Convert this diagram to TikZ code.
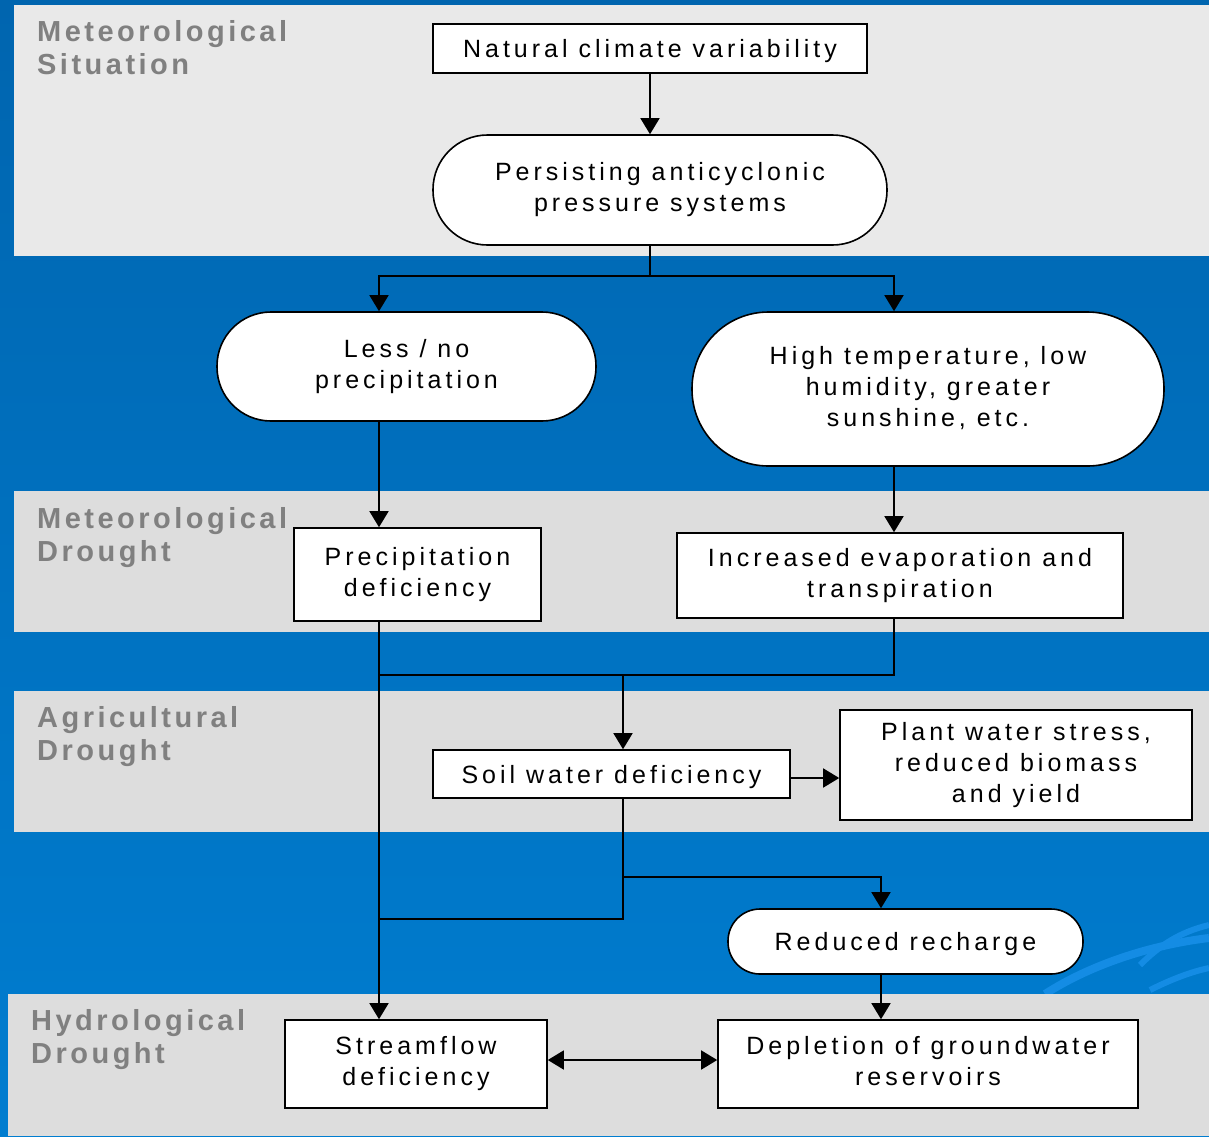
\documentclass[tikz,border=0pt]{standalone}
\usepackage{fontspec}
\setmainfont{Liberation Sans}
\newfontfamily\boxfont{Liberation Sans}[LetterSpace=16]
\newfontfamily\bandfont{Liberation Sans}[LetterSpace=12]
\usetikzlibrary{arrows.meta}
\definecolor{bgtop}{RGB}{0,101,175}
\definecolor{bgbot}{RGB}{0,125,208}
\definecolor{bandlight}{RGB}{233,233,233}
\definecolor{bandgrey}{RGB}{221,221,221}
\definecolor{labelgrey}{RGB}{128,128,128}
\definecolor{swoosh}{RGB}{20,140,228}
\begin{document}
\begin{tikzpicture}[x=1pt,y=-1pt,
    every node/.style={inner sep=0pt, align=center, font=\boxfont\fontsize{25}{31}\selectfont},
    box/.style={draw, fill=white, line width=1.6pt,
      execute at begin node={\rule{0pt}{23.5pt}}, execute at end node={\rule[-5.5pt]{0pt}{5.5pt}}},
    pill/.style={box, rounded corners=#1},
    band/.style={anchor=north west, align=left, text=labelgrey, font=\bandfont\bfseries\fontsize{29}{33.5}\selectfont},
    arr/.style={-{Triangle[length=16pt,width=19pt]}, line width=1.6pt},
    arrs/.style={{Triangle[length=16pt,width=19pt]}-{Triangle[length=16pt,width=19pt]}, line width=1.6pt}]
    \useasboundingbox (0,0) rectangle (1209,1136);
    % background and bands
    \shade [top color=bgtop, bottom color=bgbot] (0,0) rectangle (1209,1136);
    \draw [swoosh, line width=8pt] (1045,994) .. controls (1090,965) and (1150,945) .. (1209,938);
    \draw [swoosh, line width=6pt] (1140,965) .. controls (1160,945) and (1180,932) .. (1209,925);
    \draw [swoosh, line width=6pt] (1150,990) .. controls (1170,980) and (1190,972) .. (1209,968);
    \fill [bandlight] (14,5) rectangle (1209,256);
    \fill [bandgrey] (14,491) rectangle (1209,632);
    \fill [bandgrey] (14,691) rectangle (1209,832);
    \fill [bandgrey] (8,994) rectangle (1209,1136);
    \node [band] (lab1) at (37,20) {Meteorological\\Situation};
    \node [band] (lab2) at (37,507) {Meteorological\\Drought};
    \node [band] (lab3) at (37,706) {Agricultural\\Drought};
    \node [band] (lab4) at (31,1009) {Hydrological\\Drought};
    % nodes
    \node [box, minimum width=434, minimum height=49] (nat) at (650,48.5) {Natural climate variability};
    \node [pill=54.5, minimum width=454, minimum height=110] (pers) at (660,190) {Persisting anticyclonic\\pressure systems};
    \node [pill=54, minimum width=379, minimum height=109] (less) at (406.5,366.5) {Less / no\\precipitation};
    \node [pill=76.5, minimum width=472, minimum height=154] (high) at (928,389) {High temperature, low\\humidity, greater\\sunshine, etc.};
    \node [box, minimum width=247, minimum height=93] (pdef) at (417.5,574.5) {Precipitation\\deficiency};
    \node [box, minimum width=446, minimum height=85] (evap) at (900,575.5) {Increased evaporation and\\transpiration};
    \node [box, minimum width=357, minimum height=48] (soil) at (611.5,774) {Soil water deficiency};
    \node [box, minimum width=352, minimum height=110] (plant) at (1016,765) {Plant water stress,\\reduced biomass\\and yield};
    \node [pill=32, minimum width=355, minimum height=65] (rech) at (905.5,941.5) {Reduced recharge};
    \node [box, minimum width=262, minimum height=88] (stream) at (416,1064) {Streamflow\\deficiency};
    \node [box, minimum width=420, minimum height=88] (depl) at (928,1064) {Depletion of groundwater\\reservoirs};
    % columns and junctions
    \coordinate (cL) at (379,0);
    \coordinate (cM) at (623,0);
    \coordinate (cR) at (894,0);
    \coordinate (cG) at (881,0);
    \coordinate (j1) at (650,276);
    \coordinate (j2) at (623,675);
    \coordinate (j3) at (623,877);
    \coordinate (j4) at (623,919);
    % connectors
    \draw [arr] (nat.south) -- (nat.south |- pers.north);
    \draw [line width=1.6pt] (pers.south -| j1) -- (j1);
    \draw [arr] (j1) -| (cL |- less.north);
    \draw [arr] (j1) -| (cR |- high.north);
    \draw [arr] (cL |- less.south) -- (cL |- pdef.north);
    \draw [arr] (cR |- high.south) -- (cR |- evap.north);
    \draw [arr] (cL |- pdef.south) -- (cL |- stream.north);
    \draw [line width=1.6pt] (cR |- evap.south) |- (cL |- j2);
    \draw [arr] (j2) -- (cM |- soil.north);
    \draw [arr] ([yshift=-4pt]soil.east) -- ([yshift=-4pt]plant.west |- soil.east);
    \draw [line width=1.6pt] (cM |- soil.south) -- (j4) -- (cL |- j4);
    \draw [arr] (j3) -| (cG |- rech.north);
    \draw [arr] (cG |- rech.south) -- (cG |- depl.north);
    \draw [arrs] ([yshift=4pt]stream.east) -- ([yshift=4pt]depl.west);
\end{tikzpicture}
\end{document}
